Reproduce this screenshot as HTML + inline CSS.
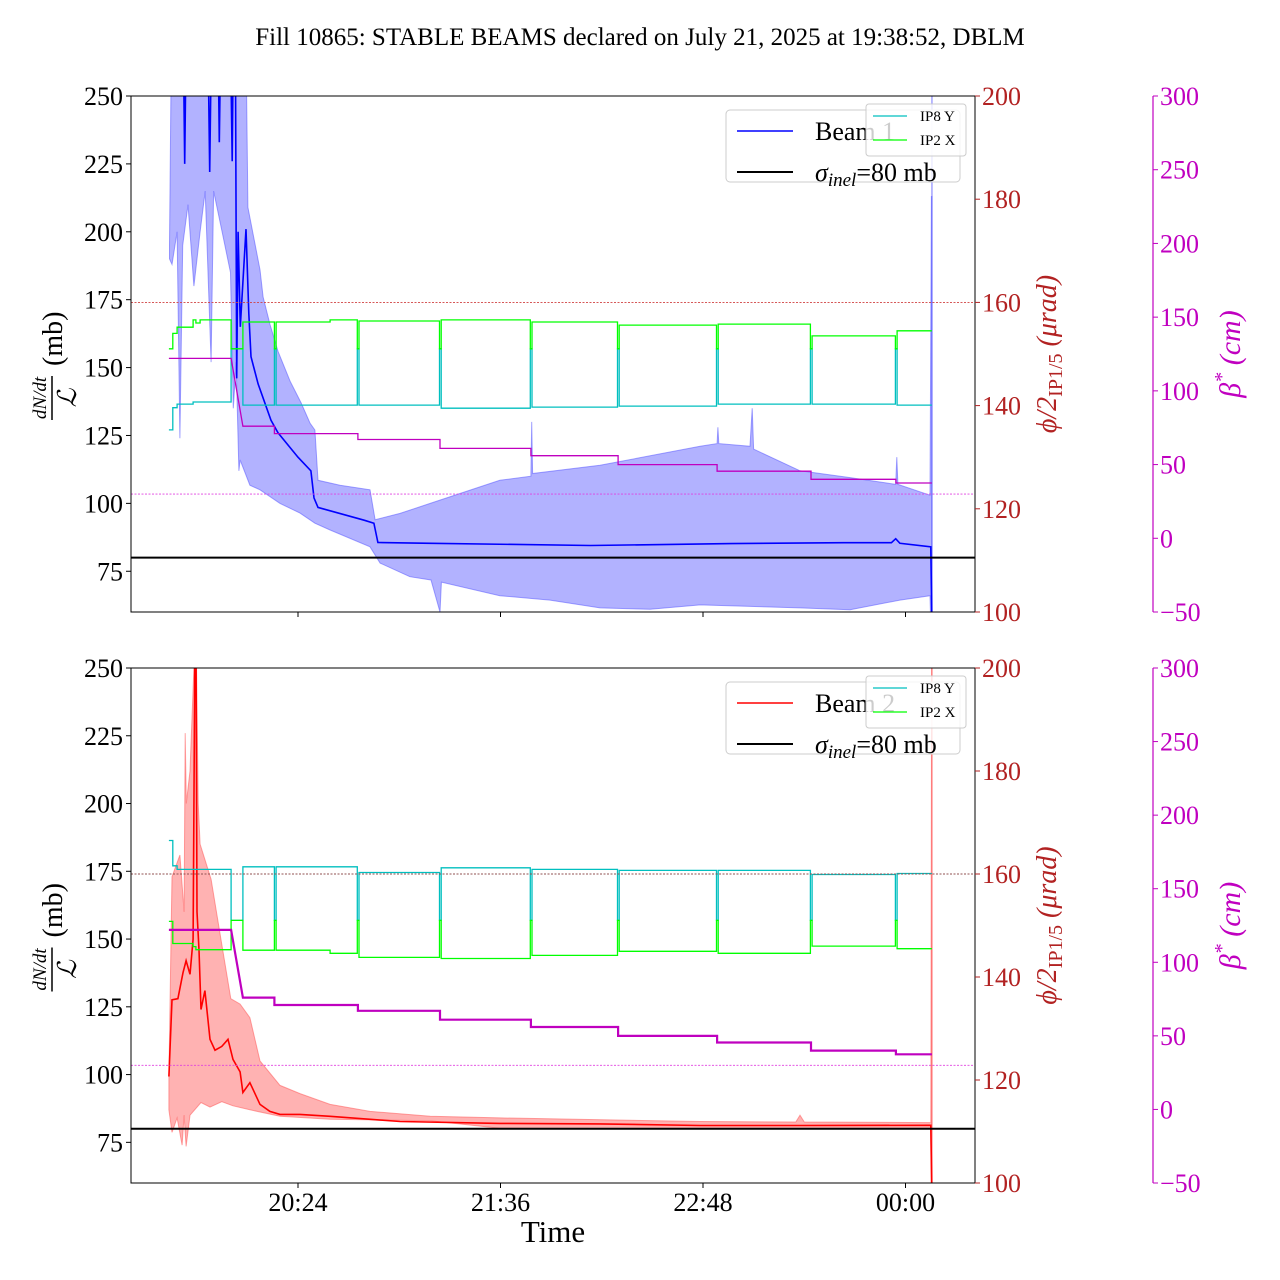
<!DOCTYPE html>
<html><head><meta charset="utf-8"><style>
html,body{margin:0;padding:0;background:#fff;}
svg{display:block;font-family:"Liberation Serif","DejaVu Serif",serif;}
</style></head><body>
<svg id="chart" width="1280" height="1280" viewBox="0 0 1280 1280" xmlns="http://www.w3.org/2000/svg">
<rect width="1280" height="1280" fill="#fff"/>
<text x="640" y="45" font-size="25" text-anchor="middle">Fill 10865: STABLE BEAMS declared on July 21, 2025 at 19:38:52, DBLM</text>
<text x="553" y="1242" font-size="31" text-anchor="middle">Time</text>
</svg>
<script>
// ---- data (time in minutes after 19:38) ----
const xTickLabels = ["20:24","21:36","22:48","00:00"];
const xTickTimes = [46, 118, 190, 262];
const leftTicks = [75,100,125,150,175,200,225,250];
const phiTicks = [100,120,140,160,180,200];
const betaTicks = [-50,0,50,100,150,200,250,300];

const xingT = [0.1,1.5,3,8.7,9.7,11.2,22.2,26.4,37.6,38.2,57.4,67.1,67.7,96.3,96.9,128.6,129.2,159.6,160.2,194.8,195.4,228.2,228.8,258.4,259.0,271.4];
const b1IP2X = [151,154,155.2,156.6,156.0,156.6,151,156.2,151,156.2,156.6,151,156.4,151,156.6,151,156.2,151,155.6,151,155.8,151,153.5,151,154.5];
const b1IP8Y = [135.3,139.6,140.3,140.7,140.7,140.7,151,140.1,151,140.1,140.1,151,140.1,151,139.5,151,139.7,151,139.9,151,140.3,151,140.3,151,140.1];
const b2IP2X = [150.8,146.5,146.5,145.9,145.3,145.3,151,145.2,151,145.2,144.6,151,143.8,151,143.6,151,144.2,151,145,151,144.6,151,146,151,145.5];
const b2IP8Y = [166.5,161.6,160.9,160.9,160.9,160.9,151,161.4,151,161.4,161.4,151,160.3,151,161.2,151,160.9,151,160.7,151,160.7,151,159.9,151,160.1];

const betaT = [0.1,22.2,26.4,37.6,37.6,67.3,67.3,96.5,96.5,128.8,128.8,159.8,159.8,195,195,228.4,228.4,258.6,258.6,271.4];
const betaV = [122,122,76,76,71,71,67,67,61,61,56,56,50,50,45.5,45.5,40,40,37.5,37.5];

const b1MeanT = [0.5,5.2,5.7,6.2,14,14.6,15.2,17.6,18,18.5,22,22.6,23,23.8,24.2,24.7,25.5,27.5,28.5,29.3,31.8,36.4,38.9,46,50.6,51.7,53.1,69.5,73,74.4,93.3,150,200,240,257,258.5,260,271,271.4];
const b1Mean = [270,270,225,270,270,222,270,270,233,270,270,226,270,250,146,200,165,201,170,154,144,130.6,126,117,112,102,98.5,93.8,92.7,85.6,85.3,84.5,85.2,85.5,85.5,87,85.3,84,55];
const b1UpperT = [0.3,1,27.5,28.2,32.5,33.6,36,38.9,43.2,47.1,50.3,52,53.1,60.9,71.6,73.4,82.3,93,117.8,128.8,129.1,129.4,153.4,189,195,195.3,195.6,206.7,207.5,208,224.5,242.3,258.5,258.9,259.3,270.7,271.2,271.4];
const b1Upper = [195,270,270,209,186,176,166,156,145,137,129.5,127,108.5,106.7,105,94,96.3,100,108.5,110,130,111,114,121,122,128,122,121,135,120,112,109.5,107,117,107,103,213,213];
const b1LowerT = [0.3,1.2,3,4,5,6.9,9,11.2,13,15.1,16,19,22,23,24,25,25.4,28.9,32.5,39.6,46.7,52,57.4,71.6,75.2,85.8,93.3,96.5,97,117.8,135.6,153.4,171.2,189,224.5,242.3,260,270.7,271.4];
const b1Lower = [190,188,200,124,195,210,180,200,215,152,215,200,185,135,152,112,116,106.7,105,100,96.4,92.7,90.2,84,78,73,71.8,60,71,66,64.4,61.5,61,62.6,61.5,60.8,64.4,66,40];

const b2MeanT = [0.1,1.2,3.3,5.1,6.2,7.6,8.7,9.4,9.7,10.1,10.8,11.5,12.9,14.7,16.5,18.9,21.1,22.9,25.4,26.4,28.9,32.5,36,39.6,46.7,57.4,82.3,117.8,153.4,189,224.5,271.0,271.4];
const b2Mean = [99.3,127.6,128,137.6,142,137,150,270,270,160,146,124,131,113,109,110.4,113,105.6,101,93.4,97,89,86.4,85.3,85.3,84.6,82.7,82,81.8,81.2,81.2,81.3,55];
const b2UpperT = [0.1,1.2,4,5.5,5.9,6.3,7.6,9.0,9.7,10.5,11.2,15.1,18.6,22.1,25.4,28.9,32.5,39.6,46.7,57.4,71.6,93,117.8,189,223,224.5,226,271.0,271.3];
const b2Upper = [99,173,181,160,226,200,212,250,270,200,185,172,150,128,126,121,105,96,93,89,86.4,84.6,84,82.7,82.5,85,82.5,82.3,270];
const b2LowerT = [0.1,1.2,3,4.8,5.5,6.2,7.6,11.5,14.7,18.9,22.9,28.9,39.6,57.4,93,117.8,189,271.0,271.3];
const b2Lower = [87,78.7,84,74,85,73.5,85,89.7,88,90,88.5,87,84.6,83.5,83,80.2,80,80,40];

const sigmaInel = 80;
const phiRef = 160;
const betaRef = 30;

// ---- drawing ----
const NS = "http://www.w3.org/2000/svg";
const svg = document.getElementById('chart');
const X0 = 131, X1 = 975;
function xs(t){ return 298 + (t - 46) * 2.8125; }
function mk(tag, attrs, parent){
  const e = document.createElementNS(NS, tag);
  for (const k in attrs) e.setAttribute(k, attrs[k]);
  (parent || svg).appendChild(e);
  return e;
}
function linePts(T, V, f){ return T.map((t,i)=>xs(t).toFixed(1)+','+f(V[i]).toFixed(1)).join(' '); }
function stepPts(T, V, f){
  const p = [];
  for (let i=0;i<V.length;i++){ p.push(xs(T[i]).toFixed(1)+','+f(V[i]).toFixed(1)); p.push(xs(T[i+1]).toFixed(1)+','+f(V[i]).toFixed(1)); }
  return p.join(' ');
}

function panel(idx, y0, y1, beam){
  const H = y1 - y0;
  const yL = v => y1 - (v - 60) / 190 * H;
  const yR = v => y1 - (v - 100) / 100 * H;
  const yB = v => y1 - (v + 50) / 350 * H;
  const g = mk('g', {});
  
  
  const cid = 'clip' + idx;
  const cp = mk('clipPath', {id: cid}, g);
  mk('rect', {x: X0, y: y0, width: X1 - X0, height: H}, cp);
  const plot = mk('g', {'clip-path': 'url(#' + cid + ')'}, g);

  // band
  const up = beam.uT.map((t,i)=>xs(t).toFixed(1)+','+yL(beam.u[i]).toFixed(1));
  const lo = beam.lT.map((t,i)=>xs(t).toFixed(1)+','+yL(beam.l[i]).toFixed(1)).reverse();
  const band = mk('polygon', {points: up.concat(lo).join(' '), fill: beam.fill, stroke: beam.edge, 'stroke-width': 1}, plot);
  
  
  const vl = mk('line', {x1: xs(271.4), x2: xs(271.4), y1: y0, y2: y1, stroke: beam.edge, 'stroke-width': 1.5}, plot);
  
  
  const ml = mk('polyline', {points: linePts(beam.mT, beam.m, yL), fill: 'none', stroke: beam.color, 'stroke-width': 1.6}, plot);
  
  
  const sl = mk('line', {x1: X0, x2: X1, y1: yL(sigmaInel), y2: yL(sigmaInel), stroke: '#000', 'stroke-width': 2}, plot);
  
  

  // crossing angles
  const c1 = mk('polyline', {points: stepPts(xingT, beam.ip8, yR), fill: 'none', stroke: '#00bfbf', 'stroke-width': 1.3}, plot);
  
  
  const c2 = mk('polyline', {points: stepPts(xingT, beam.ip2, yR), fill: 'none', stroke: '#00ff00', 'stroke-width': 1.3}, plot);
  
  
  const bl = mk('polyline', {points: linePts(betaT, betaV, yB), fill: 'none', stroke: '#bf00bf', 'stroke-width': beam.betaW}, plot);
  
  
  const d1 = mk('line', {x1: X0, x2: X1, y1: yR(phiRef), y2: yR(phiRef), stroke: beam.dot1, 'stroke-width': 0.9, 'stroke-dasharray': '2,1.5'}, plot);
  
  
  const d2 = mk('line', {x1: X0, x2: X1, y1: yB(betaRef), y2: yB(betaRef), stroke: '#e040e0', 'stroke-width': 0.9, 'stroke-dasharray': '2,1.5'}, plot);
  
  

  // frame
  const fr = mk('rect', {x: X0, y: y0, width: X1 - X0, height: H, fill: 'none', stroke: '#000', 'stroke-width': 1}, g);
  
  

  // left ticks
  leftTicks.forEach(v => {
    const y = yL(v);
    mk('line', {x1: X0 - 5, x2: X0, y1: y, y2: y, stroke: '#000'}, g);
    const t = mk('text', {x: X0 - 8, y: y + 9, 'font-size': 26, 'text-anchor': 'end'}, g);
    t.textContent = v;
    
    
  });
  // right phi ticks
  phiTicks.forEach(v => {
    const y = yR(v);
    mk('line', {x1: X1, x2: X1 + 5, y1: y, y2: y, stroke: '#b22222'}, g);
    const t = mk('text', {x: X1 + 7, y: y + 9, 'font-size': 26, fill: '#b22222'}, g);
    t.textContent = v;
    
    
  });
  // beta axis
  const bs = mk('line', {x1: 1153, x2: 1153, y1: y0, y2: y1, stroke: '#c000c0', 'stroke-width': 1.2}, g);
  
  
  betaTicks.forEach(v => {
    const y = yB(v);
    mk('line', {x1: 1153, x2: 1158, y1: y, y2: y, stroke: '#c000c0'}, g);
    const t = mk('text', {x: 1160, y: y + 9, 'font-size': 26, fill: '#c000c0'}, g);
    t.textContent = (v < 0 ? '\u2212' + (-v) : v);
    
    
  });
  // x ticks
  xTickTimes.forEach((tm, i) => {
    const x = xs(tm);
    mk('line', {x1: x, x2: x, y1: y1, y2: y1 + 5, stroke: '#000'}, g);
    if (beam.n === 2){
      const t = mk('text', {x: x, y: y1 + 28, 'font-size': 26, 'text-anchor': 'middle'}, g);
      t.textContent = xTickLabels[i];
      
      
    }
  });

  // axis titles
  const cy = (y0 + y1) / 2;
  const la = mk('g', {transform: 'translate(52,' + cy + ') rotate(-90)'}, g);
  
  
  let t = mk('text', {x: -44, y: -6, 'font-size': 19, 'font-style': 'italic', 'text-anchor': 'middle'}, la); t.textContent = 'dN/dt';
  mk('line', {x1: -66, x2: -22, y1: 0, y2: 0, stroke: '#000', 'stroke-width': 1.5}, la);
  t = mk('text', {x: -44, y: 24, 'font-size': 26, 'font-style': 'italic', 'text-anchor': 'middle'}, la); t.textContent = '\u2112';
  t = mk('text', {x: -12, y: 10, 'font-size': 28}, la); t.textContent = '(mb)';

  const ra = mk('text', {transform: 'translate(1056,' + cy + ') rotate(-90)', 'font-size': 28, fill: '#b22222', 'text-anchor': 'middle'}, g);
  
  
  ra.innerHTML = '<tspan font-style="italic">\u03d5/2</tspan><tspan font-size="20" dy="6">IP1/5</tspan><tspan dy="-6" font-style="italic"> (\u03bcrad)</tspan>';
  const ba = mk('text', {transform: 'translate(1240,' + cy + ') rotate(-90)', 'font-size': 30, fill: '#c000c0', 'text-anchor': 'middle', 'font-style': 'italic'}, g);
  
  
  ba.innerHTML = '\u03b2<tspan font-size="20" dy="-12">*</tspan><tspan dy="12"> (cm)</tspan>';

  // main legend
  const lg = mk('g', {}, g);
  
  
  const ly = y0 + 14;
  mk('rect', {x: 726, y: ly, width: 234, height: 72, rx: 4, fill: '#fff', 'fill-opacity': 0.8, stroke: '#ccc'}, lg);
  mk('line', {x1: 737, x2: 793, y1: ly + 21, y2: ly + 21, stroke: beam.color, 'stroke-width': 1.5}, lg);
  t = mk('text', {x: 815, y: ly + 30, 'font-size': 26}, lg); t.textContent = 'Beam ' + beam.n;
  mk('line', {x1: 737, x2: 793, y1: ly + 62, y2: ly + 62, stroke: '#000', 'stroke-width': 2}, lg);
  t = mk('text', {x: 815, y: ly + 71, 'font-size': 26}, lg);
  t.innerHTML = '<tspan font-style="italic">\u03c3</tspan><tspan font-style="italic" font-size="19" dy="5">inel</tspan><tspan dy="-5">=80 mb</tspan>';
  // small legend
  const sg = mk('g', {}, g);
  
  
  const sy = y0 + 8;
  mk('rect', {x: 866, y: sy, width: 100, height: 52, rx: 3, fill: '#fff', 'fill-opacity': 0.8, stroke: '#ccc'}, sg);
  mk('line', {x1: 873, x2: 907, y1: sy + 12, y2: sy + 12, stroke: '#00bfbf', 'stroke-width': 1.3}, sg);
  t = mk('text', {x: 920, y: sy + 17, 'font-size': 15}, sg); t.textContent = 'IP8 Y';
  mk('line', {x1: 873, x2: 907, y1: sy + 36, y2: sy + 36, stroke: '#00ff00', 'stroke-width': 1.3}, sg);
  t = mk('text', {x: 920, y: sy + 41, 'font-size': 15}, sg); t.textContent = 'IP2 X';
}

panel(0, 96, 612, {n: 1, color: '#0000ff', fill: 'rgba(0,0,255,0.3)', edge: 'rgba(90,90,255,0.55)', dot1: '#d04040', betaW: 1.3,
  mT: b1MeanT, m: b1Mean, uT: b1UpperT, u: b1Upper, lT: b1LowerT, l: b1Lower, ip2: b1IP2X, ip8: b1IP8Y});
panel(1, 668, 1183, {n: 2, color: '#ff0000', fill: 'rgba(255,0,0,0.3)', edge: 'rgba(255,90,90,0.55)', dot1: '#905050', betaW: 2.2,
  mT: b2MeanT, m: b2Mean, uT: b2UpperT, u: b2Upper, lT: b2LowerT, l: b2Lower, ip2: b2IP2X, ip8: b2IP8Y});
</script>
</body></html>
